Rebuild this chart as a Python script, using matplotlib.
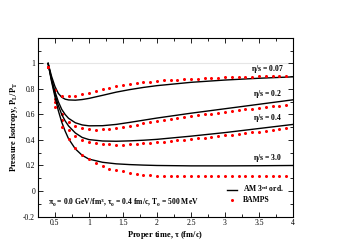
import numpy as np
import matplotlib
matplotlib.use("Agg")
import matplotlib.pyplot as plt
from matplotlib.ticker import MultipleLocator

plt.rcParams['font.family'] = ['Liberation Serif', 'DejaVu Serif']
plt.rcParams['mathtext.fontset'] = 'custom'
plt.rcParams['mathtext.rm'] = 'Liberation Serif:bold'
plt.rcParams['mathtext.it'] = 'Liberation Serif:bold'
plt.rcParams['mathtext.bf'] = 'Liberation Serif:bold'

# anisotropic hydro, 3rd order (lines)
tau_am = [0.4, 0.45, 0.5, 0.55, 0.6, 0.65, 0.7, 0.8, 0.9, 1.0, 1.2, 1.4,
          1.6, 1.8, 2.0, 2.5, 3.0, 3.5, 4.0]
am_007 = [1.0, 0.90, 0.82, 0.765, 0.735, 0.72, 0.714, 0.712, 0.717, 0.726,
          0.75, 0.775, 0.795, 0.812, 0.826, 0.852, 0.87, 0.884, 0.895]
am_02 = [1.0, 0.88, 0.78, 0.70, 0.64, 0.60, 0.57, 0.535, 0.518, 0.511,
         0.512, 0.522, 0.538, 0.555, 0.572, 0.61, 0.645, 0.68, 0.715]
am_04 = [1.0, 0.87, 0.76, 0.67, 0.60, 0.55, 0.51, 0.455, 0.42, 0.403,
         0.392, 0.39, 0.393, 0.398, 0.405, 0.43, 0.458, 0.49, 0.522]
am_30 = [1.0, 0.86, 0.74, 0.63, 0.54, 0.47, 0.41, 0.33, 0.28, 0.25,
         0.225, 0.213, 0.207, 0.203, 0.2, 0.197, 0.197, 0.198, 0.2]

# BAMPS (points)
tau_bamps = [0.4, 0.5, 0.6, 0.7, 0.8, 0.9, 1.0, 1.1, 1.2, 1.3, 1.4, 1.5,
             1.6, 1.7, 1.8, 1.9, 2.0, 2.1, 2.2, 2.3, 2.4, 2.5, 2.6, 2.7,
             2.8, 2.9, 3.0, 3.1, 3.2, 3.3, 3.4, 3.5, 3.6, 3.7, 3.8, 3.9]
bamps_007 = [0.97, 0.79, 0.745, 0.742, 0.748, 0.758, 0.77, 0.785, 0.80, 0.81,
             0.822, 0.83, 0.838, 0.845, 0.852, 0.857, 0.862, 0.867, 0.871, 0.874,
             0.876, 0.879, 0.881, 0.884, 0.886, 0.888, 0.89, 0.892, 0.893, 0.895,
             0.896, 0.898, 0.899, 0.90, 0.902, 0.903]
bamps_02 = [0.97, 0.72, 0.60, 0.54, 0.51, 0.495, 0.485, 0.482, 0.483, 0.488,
            0.495, 0.503, 0.512, 0.52, 0.53, 0.538, 0.547, 0.555, 0.563, 0.57,
            0.578, 0.585, 0.592, 0.60, 0.606, 0.613, 0.62, 0.627, 0.633, 0.64,
            0.646, 0.652, 0.658, 0.664, 0.67, 0.676]
bamps_04 = [0.97, 0.70, 0.56, 0.48, 0.43, 0.40, 0.385, 0.375, 0.368, 0.365,
            0.364, 0.364, 0.366, 0.369, 0.373, 0.377, 0.382, 0.387, 0.392, 0.397,
            0.402, 0.408, 0.413, 0.419, 0.425, 0.43, 0.436, 0.442, 0.448, 0.454,
            0.46, 0.466, 0.472, 0.478, 0.484, 0.49]
bamps_30 = [0.97, 0.66, 0.50, 0.41, 0.34, 0.286, 0.247, 0.222, 0.195, 0.175,
            0.165, 0.155, 0.145, 0.137, 0.128, 0.122, 0.119, 0.117, 0.116, 0.115,
            0.115, 0.114, 0.114, 0.114, 0.114, 0.114, 0.114, 0.114, 0.114, 0.114,
            0.114, 0.114, 0.114, 0.114, 0.114, 0.114]

labels = [r'$\eta$/s = 0.07', r'$\eta$/s = 0.2', r'$\eta$/s = 0.4', r'$\eta$/s = 3.0']
label_y = [0.955, 0.76, 0.572, 0.26]

fig = plt.figure(figsize=(3.51, 2.48), dpi=100)
ax = fig.add_axes([0.108, 0.127, 0.727, 0.72])

ax.axhline(1.0, color='#e6e6e6', lw=0.8, zorder=0)

curves = [am_007, am_02, am_04, am_30]
points = [bamps_007, bamps_02, bamps_04, bamps_30]
for i in range(4):
    ax.plot(tau_am, curves[i], color='black', lw=1.0,
            label='AM 3$^{rd}$ ord.' if i == 0 else None)
    ax.plot(tau_bamps, points[i], ls='none', marker='o', ms=2.2, color='red',
            mec='none', label='BAMPS' if i == 0 else None)
    ax.text(3.62, label_y[i], labels[i], fontsize=5.5, fontweight='bold',
            ha='center', va='center')

ax.text(0.4, -0.095, r'$\pi_0$ = 0.0 GeV/fm$^3$, $\tau_0$ = 0.4 fm/c, T$_0$ = 500 MeV',
        fontsize=5.5, fontweight='bold', va='center')

ax.set_xlim(0.25, 4)
ax.set_ylim(-0.2, 1.2)
ax.xaxis.set_minor_locator(MultipleLocator(0.25))
ax.yaxis.set_minor_locator(MultipleLocator(0.1))
ax.set_xticks([0.5, 1, 1.5, 2, 2.5, 3, 3.5, 4])
ax.set_xticklabels(['0.5', '1', '1.5', '2', '2.5', '3', '3.5', '4'])
ax.set_yticks([-0.2, 0, 0.2, 0.4, 0.6, 0.8, 1.0, 1.2])
ax.set_yticklabels(['-0.2', '0', '0.2', '0.4', '0.6', '0.8', '1', ''])
ax.tick_params(which='both', direction='in', top=True, right=True,
               labelsize=5.5, pad=2, width=0.6)
ax.tick_params(which='major', length=3.5)
ax.tick_params(which='minor', length=2)
for s in ax.spines.values():
    s.set_linewidth(0.8)

ax.set_xlabel(r'Proper time, $\tau$ (fm/c)', fontsize=6, fontweight='bold', labelpad=1)
ax.set_ylabel(r'Pressure Isotropy, P$_L$/P$_T$', fontsize=6, fontweight='bold', labelpad=2)

ax.legend(loc='lower right', bbox_to_anchor=(0.99, 0.03), frameon=False,
          prop={'weight': 'bold', 'size': 5.5}, handlelength=1.4,
          labelspacing=0.25, handletextpad=0.7)

fig.savefig('out.png', dpi=100)
